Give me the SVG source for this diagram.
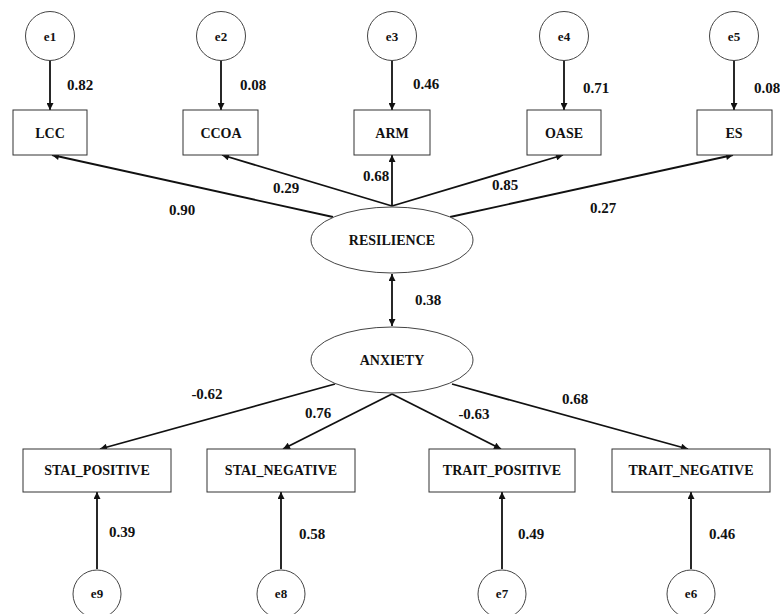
<svg xmlns="http://www.w3.org/2000/svg" width="780" height="614" viewBox="0 0 780 614">
<style>
.box{fill:#fff;stroke:#333;stroke-width:1}
.lat{fill:#fff;stroke:#444;stroke-width:1}
.err{fill:#fff;stroke:#444;stroke-width:1}
.edge{stroke:#111;stroke-width:1.8;fill:none;marker-end:url(#ah)}
.bi{marker-start:url(#ahs)}
text{font-family:"Liberation Serif","Times New Roman",serif;font-weight:bold;fill:#111;text-anchor:middle}
.nl{font-size:14px}
.el{font-size:13px}
.wl{font-size:15px}
</style>
<defs>
<marker id="ah" viewBox="0 0 10 10" refX="10" refY="5" markerWidth="8" markerHeight="7" markerUnits="userSpaceOnUse" orient="auto"><path d="M0,0 L10,5 L0,10 z" fill="#111"/></marker>
<marker id="ahs" viewBox="0 0 10 10" refX="0" refY="5" markerWidth="8" markerHeight="7" markerUnits="userSpaceOnUse" orient="auto"><path d="M10,0 L0,5 L10,10 z" fill="#111"/></marker>
</defs>
<rect width="780" height="614" fill="#fff"/>
<g id="connectors">
<line class="edge" x1="50" y1="61" x2="50" y2="110"/>
<line class="edge" x1="221" y1="61" x2="221" y2="110"/>
<line class="edge" x1="392" y1="61" x2="392" y2="110"/>
<line class="edge" x1="564" y1="61" x2="564" y2="110"/>
<line class="edge" x1="734" y1="61" x2="734" y2="110"/>
<line class="edge" x1="333" y1="217" x2="52" y2="155"/>
<line class="edge" x1="392" y1="206" x2="222" y2="155"/>
<line class="edge" x1="392" y1="206" x2="392" y2="155"/>
<line class="edge" x1="392" y1="206" x2="563" y2="155"/>
<line class="edge" x1="450" y1="217" x2="733" y2="155"/>
<line class="edge bi" x1="392" y1="274" x2="392" y2="326"/>
<line class="edge" x1="335" y1="384" x2="100" y2="449"/>
<line class="edge" x1="392" y1="394" x2="283" y2="449"/>
<line class="edge" x1="392" y1="394" x2="501" y2="449"/>
<line class="edge" x1="452" y1="384" x2="688" y2="449"/>
<line class="edge" x1="97" y1="569" x2="97" y2="492"/>
<line class="edge" x1="281" y1="569" x2="281" y2="492"/>
<line class="edge" x1="502" y1="569" x2="502" y2="492"/>
<line class="edge" x1="691" y1="569" x2="691" y2="492"/>
<text class="wl" x="80" y="90">0.82</text>
<text class="wl" x="253" y="90">0.08</text>
<text class="wl" x="426" y="89">0.46</text>
<text class="wl" x="596" y="93">0.71</text>
<text class="wl" x="767" y="93">0.08</text>
<text class="wl" x="182" y="215">0.90</text>
<text class="wl" x="286" y="193">0.29</text>
<text class="wl" x="376" y="181">0.68</text>
<text class="wl" x="505" y="190">0.85</text>
<text class="wl" x="603" y="213">0.27</text>
<text class="wl" x="428" y="305">0.38</text>
<text class="wl" x="207" y="399">-0.62</text>
<text class="wl" x="318" y="418">0.76</text>
<text class="wl" x="474" y="419">-0.63</text>
<text class="wl" x="575" y="404">0.68</text>
<text class="wl" x="122" y="537">0.39</text>
<text class="wl" x="312" y="539">0.58</text>
<text class="wl" x="531" y="539">0.49</text>
<text class="wl" x="722" y="539">0.46</text>
</g>
<g id="e1"><circle class="err" cx="50" cy="36" r="24.5"/><text class="el" x="50" y="41">e1</text></g>
<g id="e2"><circle class="err" cx="221" cy="36" r="24.5"/><text class="el" x="221" y="41">e2</text></g>
<g id="e3"><circle class="err" cx="392" cy="36" r="24.5"/><text class="el" x="392" y="41">e3</text></g>
<g id="e4"><circle class="err" cx="564" cy="36" r="24.5"/><text class="el" x="564" y="41">e4</text></g>
<g id="e5"><circle class="err" cx="734" cy="36" r="24.5"/><text class="el" x="734" y="41">e5</text></g>
<g id="LCC"><rect class="box" x="13" y="110" width="74" height="45"/><text class="nl" x="50" y="138">LCC</text></g>
<g id="CCOA"><rect class="box" x="183" y="110" width="75" height="45"/><text class="nl" x="221" y="138">CCOA</text></g>
<g id="ARM"><rect class="box" x="354" y="110" width="76" height="45"/><text class="nl" x="392" y="138">ARM</text></g>
<g id="OASE"><rect class="box" x="527" y="110" width="74" height="45"/><text class="nl" x="564" y="138">OASE</text></g>
<g id="ES"><rect class="box" x="697" y="110" width="75" height="45"/><text class="nl" x="734" y="138">ES</text></g>
<g id="RESILIENCE"><ellipse class="lat" cx="392" cy="240" rx="81" ry="33"/><text class="nl" x="392" y="245">RESILIENCE</text></g>
<g id="ANXIETY"><ellipse class="lat" cx="392" cy="360" rx="81" ry="33"/><text class="nl" x="392" y="365">ANXIETY</text></g>
<g id="STAI_POSITIVE"><rect class="box" x="23" y="449" width="148" height="43"/><text class="nl" x="97" y="475">STAI_POSITIVE</text></g>
<g id="STAI_NEGATIVE"><rect class="box" x="207" y="449" width="148" height="43"/><text class="nl" x="281" y="475">STAI_NEGATIVE</text></g>
<g id="TRAIT_POSITIVE"><rect class="box" x="429" y="449" width="146" height="43"/><text class="nl" x="502" y="475">TRAIT_POSITIVE</text></g>
<g id="TRAIT_NEGATIVE"><rect class="box" x="612" y="449" width="158" height="43"/><text class="nl" x="691" y="475">TRAIT_NEGATIVE</text></g>
<g id="e9"><circle class="err" cx="97" cy="594" r="24"/><text class="el" x="97" y="598">e9</text></g>
<g id="e8"><circle class="err" cx="281" cy="594" r="24"/><text class="el" x="281" y="598">e8</text></g>
<g id="e7"><circle class="err" cx="502" cy="594" r="24"/><text class="el" x="502" y="598">e7</text></g>
<g id="e6"><circle class="err" cx="691" cy="594" r="24"/><text class="el" x="691" y="598">e6</text></g>
</svg>
